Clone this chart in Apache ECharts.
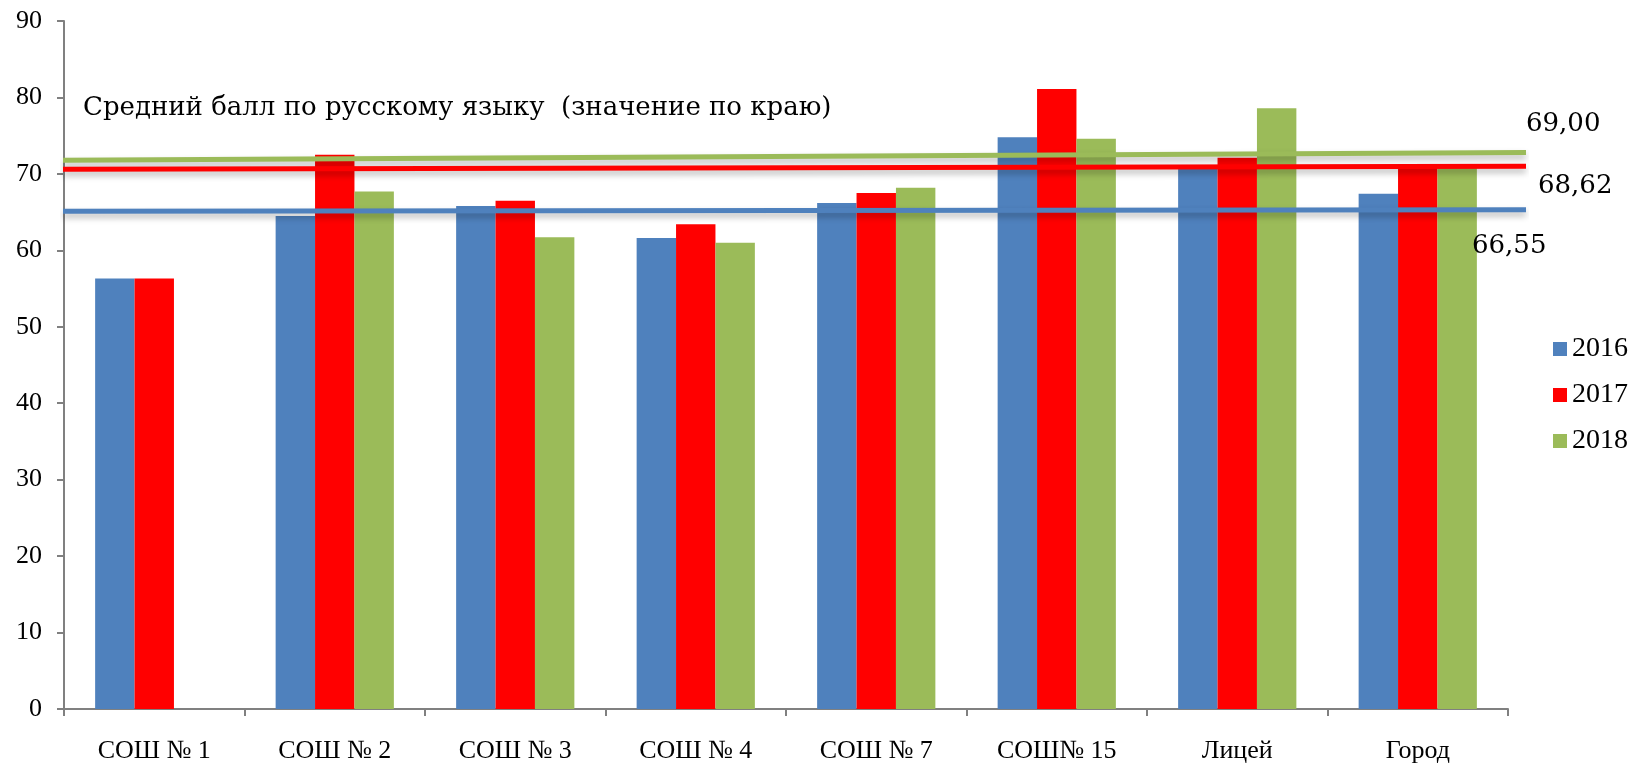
<!DOCTYPE html>
<html>
<head>
<meta charset="utf-8">
<script src="https://cdn.jsdelivr.net/npm/echarts@6/dist/echarts.min.js"></script>
<style>html,body{margin:0;padding:0;background:#fff}#c{width:1631px;height:769px}</style>
</head>
<body>
<div id="c"></div>
<script>
var categories = ['СОШ № 1', 'СОШ № 2', 'СОШ № 3', 'СОШ № 4', 'СОШ № 7', 'СОШ№ 15', 'Лицей', 'Город'];
var seriesNames = ['2016', '2017', '2018'];
var values2016 = [56.3, 64.5, 65.8, 61.6, 66.2, 74.8, 71.0, 67.4];
var values2017 = [56.3, 72.5, 66.5, 63.4, 67.5, 81.1, 72.1, 70.8];
var values2018 = [null, 67.7, 61.7, 61.0, 68.2, 74.6, 78.6, 71.0];
var yTicks = [0, 10, 20, 30, 40, 50, 60, 70, 80, 90];
var titleText = 'Средний балл по русскому языку  (значение по краю)';
// regional average lines (start value, end value) and their labels
var lineNames = ['2018', '2017', '2016'];
var lineStart = [71.8, 70.6, 65.1];
var lineEnd = [72.8, 71.0, 65.3];
var lineLabels = ['69,00', '68,62', '66,55'];

var colors = {'2016': '#4F81BD', '2017': '#FF0000', '2018': '#9BBB59'};
var serif = '"Liberation Serif", "Times New Roman", serif';
var schoolbook = '"DejaVu Serif", serif';
var labelOffsets = [[-8, -28], [4, 20], [-62, 36]];

var chart = echarts.init(document.getElementById('c'), null, {renderer: 'canvas'});
var barData = [values2016, values2017, values2018];
var series = seriesNames.map(function (n, i) {
  return {
    name: n, type: 'bar', data: barData[i], barGap: '0%', barCategoryGap: '34.5%',
    itemStyle: {color: colors[n]}, z: 2, xAxisIndex: 0, yAxisIndex: 0
  };
});
lineNames.forEach(function (n, i) {
  series.push({
    name: 'line' + n, type: 'line', xAxisIndex: 1, yAxisIndex: 1, clip: false,
    symbol: 'none', silent: true, z: 5,
    data: [[0, lineStart[i]], [1, lineEnd[i]]],
    endLabel: {
      show: true, formatter: lineLabels[i], offset: labelOffsets[i],
      fontFamily: schoolbook, fontSize: 26, color: '#000'
    },
    lineStyle: {color: colors[n], width: 5, shadowColor: 'rgba(0,0,0,0.28)', shadowBlur: 6, shadowOffsetY: 4}
  });
});

chart.setOption({
  animation: false,
  backgroundColor: '#fff',
  title: {text: titleText, left: 78, top: 90, textStyle: {fontFamily: schoolbook, fontSize: 26, fontWeight: 'normal', color: '#000'}},
  legend: {
    data: seriesNames, orient: 'vertical', left: 1548, top: 330, itemWidth: 14, itemHeight: 14, itemGap: 18, icon: 'rect',
    textStyle: {fontFamily: serif, fontSize: 28, color: '#000'}
  },
  grid: [
    {left: 64, right: 123, top: 21, bottom: 60, containLabel: false},
    {left: 63, right: 105, top: 21, bottom: 60, containLabel: false}
  ],
  xAxis: [{
    type: 'category', data: categories, gridIndex: 0,
    axisLine: {lineStyle: {color: '#808080', width: 2}},
    axisTick: {show: true, length: 7, lineStyle: {color: '#808080', width: 2}},
    axisLabel: {fontFamily: serif, fontSize: 26, color: '#000', margin: 29}
  }, {
    type: 'value', min: 0, max: 1, show: false, gridIndex: 1
  }],
  yAxis: [{
    type: 'value', min: 0, max: 90, interval: 10, gridIndex: 0,
    splitLine: {show: false},
    axisLine: {show: true, lineStyle: {color: '#808080', width: 2}},
    axisTick: {show: true, length: 7, lineStyle: {color: '#808080', width: 2}},
    axisLabel: {fontFamily: serif, fontSize: 26, color: '#000', margin: 22,
      formatter: function (v) { return yTicks.indexOf(v) >= 0 ? String(v) : ''; }}
  }, {
    type: 'value', min: 0, max: 90, interval: 10, gridIndex: 1, show: false
  }],
  series: series
});
</script>
</body>
</html>
